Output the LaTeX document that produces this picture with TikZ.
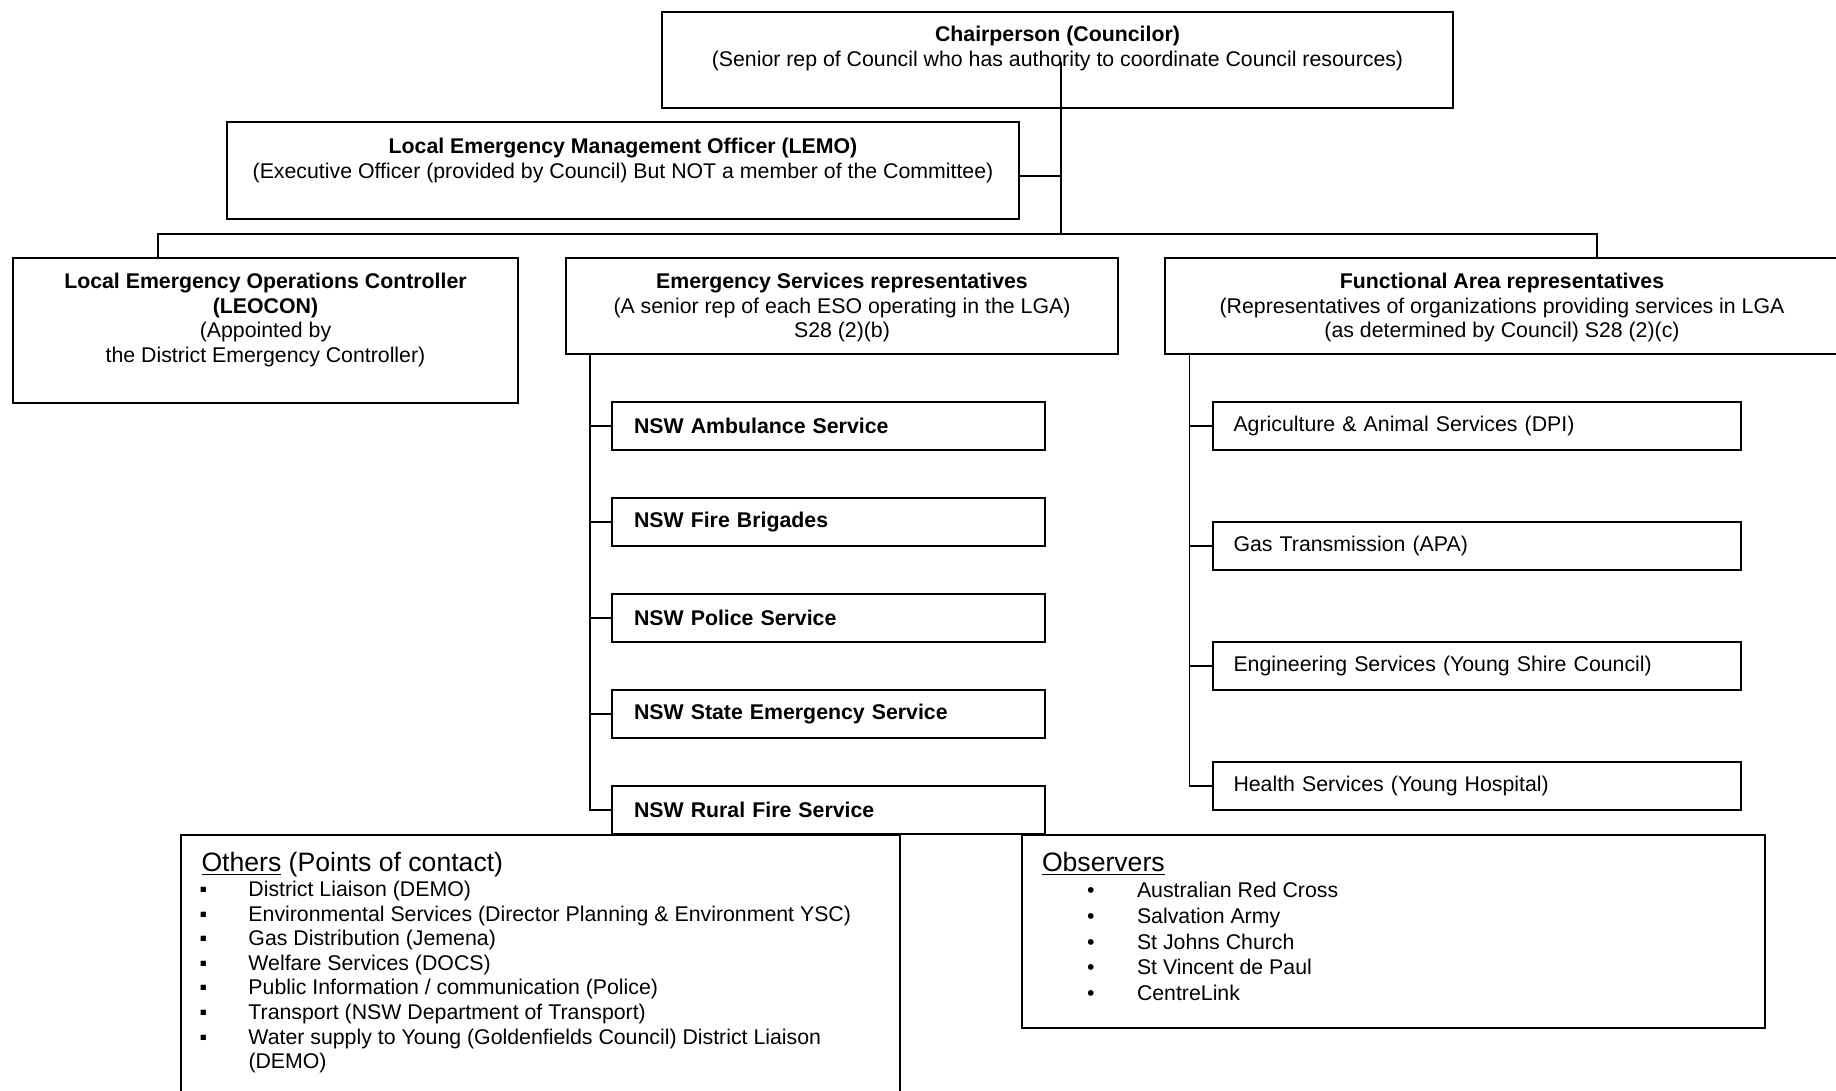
\documentclass[tikz,border=0pt]{standalone}
\usepackage{fontspec}
\setmainfont{Liberation Sans}
\usepackage{tikz}
\usetikzlibrary{positioning}

\newcommand\chartfont{\fontsize{10.65}{12.3}\selectfont}
\newcommand\sqitem{\makebox[24.5pt][l]{▪}}
\newcommand\dotitem{\makebox[25pt][l]{•}}

\begin{document}
\begin{tikzpicture}[x=0.5pt,y=-0.5pt,
    frame/.style={draw,line width=0.9pt,anchor=north west,inner sep=0pt},
    hdr/.style={anchor=north,align=center,inner sep=0pt},
    esitem/.style={draw,line width=0.9pt,minimum width=216.5pt,minimum height=24pt,
        text width=194.5pt,inner xsep=11pt,inner ysep=0pt,align=left,font=\chartfont\bfseries},
    faitem/.style={draw,line width=0.9pt,minimum width=264pt,minimum height=24pt,
        text width=243.5pt,inner xsep=10.25pt,inner ysep=0pt,align=left},
    conn/.style={line width=0.9pt}]
    \tikzstyle{every node}=[font=\chartfont,outer sep=0pt]
    \useasboundingbox (0,0) rectangle (1836,1091);

    % top of the chart
    \node[frame,minimum width=395.5pt,minimum height=48pt] (chair) at (662,12) {};
    \node[hdr,below=7pt of chair.north] (chairtxt)
        {\textbf{Chairperson (Councilor)}\\
         (Senior rep of Council who has authority to coordinate Council resources)};
    \node[frame,minimum width=396pt,minimum height=48.5pt] (lemo) at (227,122) {};
    \node[hdr,below=8pt of lemo.north] (lemotxt)
        {\textbf{Local Emergency Management Officer (LEMO)}\\
         (Executive Officer (provided by Council) But NOT a member of the Committee)};

    % second row
    \node[frame,minimum width=252.5pt,minimum height=72.5pt] (leocon) at (13,258) {};
    \node[hdr,below=7.5pt of leocon.north] (leocontxt)
        {\textbf{Local Emergency Operations Controller}\\
         \textbf{(LEOCON)}\\
         (Appointed by\\
         the District Emergency Controller)};
    \node[frame,minimum width=276pt,minimum height=48pt] (esr) at (566,258) {};
    \node[hdr,below=7.5pt of esr.north] (esrtxt)
        {\textbf{Emergency Services representatives}\\
         (A senior rep of each ESO operating in the LGA)\\
         S28 (2)(b)};
    \node[frame,minimum width=337pt,minimum height=48pt] (fa) at (1165,258) {};
    \node[hdr,below=7.5pt of fa.north] (fatxt)
        {\textbf{Functional Area representatives}\\
         (Representatives of organizations providing services in LGA\\
         (as determined by Council) S28 (2)(c)};

    % emergency services
    \node[esitem,below=24pt of esr.south west,anchor=north west,xshift=23pt] (amb) {NSW Ambulance Service};
    \node[esitem,below=24pt of amb] (fire) {NSW Fire Brigades};
    \node[esitem,below=24pt of fire] (pol) {NSW Police Service};
    \node[esitem,below=24pt of pol] (ses) {NSW State Emergency Service};
    \node[esitem,below=24pt of ses] (rfs) {NSW Rural Fire Service};

    % functional areas
    \node[faitem,below=24pt of fa.south west,anchor=north west,xshift=24pt] (agri) {Agriculture \& Animal Services (DPI)};
    \node[faitem,below=36pt of agri] (gas) {Gas Transmission (APA)};
    \node[faitem,below=36pt of gas] (eng) {Engineering Services (Young Shire Council)};
    \node[faitem,below=36pt of eng] (hlth) {Health Services (Young Hospital)};

    % bottom boxes
    \node[frame,minimum width=359.5pt,minimum height=132.5pt] (others) at (181,835) {};
    \node[anchor=north west,inner sep=0pt,font=\fontsize{13.3}{15.3}\selectfont] (othhead) at (201.5,852)
        {\underline{Others} (Points of contact)};
    \node[anchor=north west,align=left,inner sep=0pt] (othlist) at (199.5,881)
        {\sqitem District Liaison (DEMO)\\
         \sqitem Environmental Services (Director Planning \& Environment YSC)\\
         \sqitem Gas Distribution (Jemena)\\
         \sqitem Welfare Services (DOCS)\\
         \sqitem Public Information / communication (Police)\\
         \sqitem Transport (NSW Department of Transport)\\
         \sqitem Water supply to Young (Goldenfields Council) District Liaison\\
         \hspace*{24.5pt}(DEMO)};
    \node[frame,minimum width=371.5pt,minimum height=96.5pt] (obs) at (1022,835) {};
    \node[anchor=north west,inner sep=0pt,font=\fontsize{13.3}{15.3}\selectfont] (obshead) at (1042,852)
        {\underline{Observers}};
    \node[anchor=north west,align=left,inner sep=0pt,font=\fontsize{10.65}{12.9}\selectfont] (obslist) at (1087,882)
        {\dotitem Australian Red Cross\\
         \dotitem Salvation Army\\
         \dotitem St Johns Church\\
         \dotitem St Vincent de Paul\\
         \dotitem CentreLink};

    % connectors
    \coordinate (spine) at (1061,62);
    \coordinate (busl) at (158,234);
    \coordinate (busr) at (1597,234);
    \coordinate (lemoout) at ([yshift=-2.75pt]lemo.east);
    \draw[conn] (spine) -- (spine |- busl);
    \draw[conn] (lemoout) -- (lemoout -| spine);
    \draw[conn] (leocon.north -| busl) -- (busl) -- (busr) -- (fa.north -| busr);

    \coordinate (estrunk) at ([xshift=12pt]esr.south west);
    \draw[conn] (estrunk) |- (rfs.west);
    \draw[conn] (amb.west) -- (amb.west -| estrunk);
    \draw[conn] (fire.west) -- (fire.west -| estrunk);
    \draw[conn] (pol.west) -- (pol.west -| estrunk);
    \draw[conn] (ses.west) -- (ses.west -| estrunk);

    \coordinate (fatrunk) at ([xshift=12.25pt]fa.south west);
    \draw[conn] (fatrunk) |- (hlth.west);
    \draw[conn] (agri.west) -- (agri.west -| fatrunk);
    \draw[conn] (gas.west) -- (gas.west -| fatrunk);
    \draw[conn] (eng.west) -- (eng.west -| fatrunk);
\end{tikzpicture}
\end{document}
